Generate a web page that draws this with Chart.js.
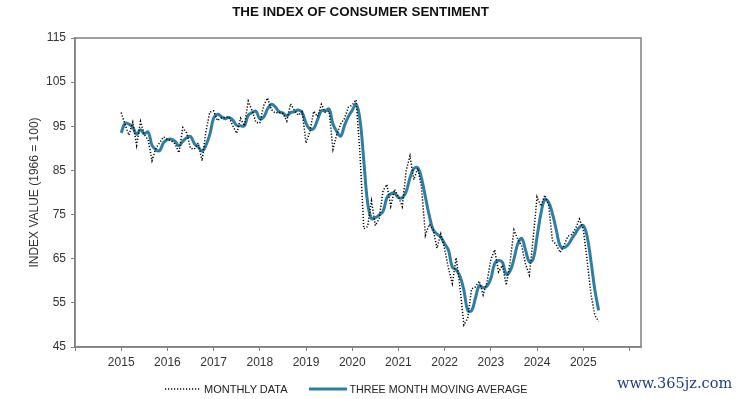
<!DOCTYPE html>
<html>
<head>
<meta charset="utf-8">
<title>The Index of Consumer Sentiment</title>
<script src="https://cdn.jsdelivr.net/npm/chart.js"></script>
<style>
    body { margin: 0; background: #fff; font-family: "Liberation Sans", Arial, sans-serif; }
    #wrap { position: relative; width: 738px; height: 399px; }
    #title { position: absolute; left: 0; top: 4px; width: 721px; text-align: center;
             font-weight: bold; font-size: 13.4px; color: #111; }
    #legend { position: absolute; top: 383px; left: 165px; font-size: 11px; color: #222;
              display: flex; align-items: center; white-space: nowrap; }
    #legend svg { display: block; margin-right: 3px; }
    #legend span { margin-right: 21px; }
    #legend span.last { font-size: 10.7px; }
    #stamp { position: absolute; left: 617px; top: 375px; font-family: "DejaVu Serif", serif;
             font-size: 14.5px; color: #1f3f80; }
</style>
</head>
<body>
<div id="wrap">
    <canvas id="chart" width="738" height="399"></canvas>
    <div id="title">THE INDEX OF CONSUMER SENTIMENT</div>
    <div id="legend">
        <svg width="36" height="6"><line x1="0" y1="3" x2="36" y2="3" stroke="#000" stroke-width="1.5" stroke-dasharray="1.2,1.8"/></svg>
        <span>MONTHLY DATA</span>
        <svg width="38" height="6"><line x1="0" y1="3" x2="38" y2="3" stroke="#2f7ea6" stroke-width="3"/></svg>
        <span class="last">THREE MONTH MOVING AVERAGE</span>
    </div>
    <div id="stamp">www.365jz.com</div>
</div>

<script>
    // monthly index, January 2015 to May 2025
    const startYear = 2015;
    const monthly = [
        98.1, 95.4, 93.0, 95.9, 90.7, 96.1, 93.1, 91.9, 87.2, 90.0, 91.3, 92.6,
        92.0, 91.7, 91.0, 89.0, 94.7, 93.5, 90.0, 89.8, 91.2, 87.2, 93.8, 98.2,
        98.5, 96.3, 96.9, 97.0, 97.1, 95.1, 93.4, 96.8, 95.1, 100.7, 98.5, 95.9,
        95.7, 99.7, 101.4, 98.8, 98.0, 98.2, 97.9, 96.2, 100.1, 98.6, 97.5, 98.3,
        91.2, 93.8, 98.4, 97.2, 100.0, 98.2, 98.4, 89.8, 93.2, 95.5, 96.8, 99.3,
        99.8, 101.0, 89.1, 71.8, 72.3, 78.1, 72.5, 74.1, 80.4, 81.8, 76.9, 80.7,
        79.0, 76.8, 84.9, 88.3, 82.9, 85.5, 81.2, 70.3, 72.8, 71.7, 67.4, 70.6,
        67.2, 62.8, 59.4, 65.2, 58.4, 50.0, 51.5, 58.2, 58.6, 59.9, 56.8, 59.7,
        64.9, 67.0, 62.0, 63.5, 59.0, 64.2, 71.5, 69.4, 67.9, 63.8, 61.3, 69.7,
        79.0, 76.9, 79.4, 77.2, 69.1, 68.2, 66.4, 67.9, 70.1, 70.5, 71.8, 74.0,
        71.7, 64.7, 57.0, 52.2, 50.8
    ];
    // three month moving average, same months
    const movingAvg = [
        93.5, 95.7, 95.5, 94.8, 93.2, 94.2, 93.3, 93.7, 90.7, 89.7, 89.5, 91.3,
        92.0, 92.1, 91.6, 90.6, 91.6, 92.4, 92.7, 91.1, 90.3, 89.4, 90.7, 93.1,
        96.8, 97.7, 97.2, 96.7, 97.0, 96.4, 95.2, 95.1, 95.1, 97.5, 98.1, 98.4,
        96.7, 97.1, 98.9, 100.0, 99.4, 98.3, 98.0, 97.4, 98.1, 98.3, 98.7, 98.1,
        95.7, 94.4, 94.5, 96.5, 98.5, 98.5, 98.9, 95.5, 93.8, 92.8, 95.2, 97.2,
        98.6, 100.0, 96.6, 87.3, 77.7, 74.1, 74.3, 74.9, 75.7, 78.8, 79.7, 79.8,
        78.9, 78.8, 80.2, 83.3, 85.4, 85.6, 83.2, 79.0, 74.8, 71.6, 70.6, 69.9,
        68.4, 66.9, 63.1, 62.5, 61.0, 57.9, 53.3, 53.2, 56.1, 58.9, 58.4, 58.8,
        60.5, 63.9, 64.6, 64.2, 61.5, 62.2, 64.9, 68.4, 69.6, 67.0, 64.3, 64.9,
        70.0, 75.2, 78.4, 77.8, 75.2, 71.5, 67.9, 67.5, 68.1, 69.5, 70.8, 72.1,
        72.5, 70.1, 64.5, 58.0, 53.3
    ];
    const yearLabels = [2015, 2016, 2017, 2018, 2019, 2020, 2021, 2022, 2023, 2024, 2025];
    const xTickYears = [2014, ...yearLabels, 2026];
    const yTicks = [45, 55, 65, 75, 85, 95, 105, 115];

    const toPoints = arr => arr.map((v, i) => ({ x: startYear + i / 12, y: v }));

    const axisGray = '#808080';
    const textColor = '#333';

    // frame round the plot (top and right edges)
    const frame = {
        id: 'frame',
        afterDraw(chart) {
            const { ctx, chartArea: a } = chart;
            ctx.save();
            ctx.strokeStyle = axisGray;
            ctx.lineWidth = 1.5;
            ctx.strokeRect(a.left, a.top, a.right - a.left, a.bottom - a.top);
            ctx.restore();
        }
    };

    new Chart(document.getElementById('chart'), {
        type: 'line',
        data: {
            datasets: [{
                label: 'MONTHLY DATA',
                data: toPoints(monthly),
                borderColor: '#000',
                borderWidth: 1.5,
                borderDash: [1.2, 1.8],
                pointRadius: 0,
                tension: 0
            }, {
                label: 'THREE MONTH MOVING AVERAGE',
                data: toPoints(movingAvg),
                borderColor: '#2f7ea6',
                borderWidth: 3,
                pointRadius: 0,
                tension: 0.4
            }]
        },
        options: {
            responsive: false,
            animation: false,
            layout: { padding: { top: 38, right: 97, bottom: 0, left: 0 } },
            plugins: {
                legend: { display: false },
                title: { display: false },
                tooltip: { enabled: false }
            },
            scales: {
                x: {
                    type: 'linear',
                    min: 2014,
                    max: 2026.25,
                    afterFit: s => { s.height = 52; },
                    afterBuildTicks: s => { s.ticks = xTickYears.map(v => ({ value: v })); },
                    border: { color: axisGray, width: 1.5 },
                    grid: { drawOnChartArea: false, tickLength: 4, color: axisGray },
                    ticks: {
                        autoSkip: false,
                        maxRotation: 0,
                        padding: 4,
                        color: textColor,
                        font: { family: 'Liberation Sans', size: 12 },
                        callback: v => yearLabels.includes(v) ? String(v) : ''
                    }
                },
                y: {
                    min: yTicks[0],
                    max: yTicks[yTicks.length - 1],
                    afterFit: s => { s.width = 75; },
                    afterBuildTicks: s => { s.ticks = yTicks.map(v => ({ value: v })); },
                    border: { color: axisGray, width: 1.5 },
                    grid: { drawOnChartArea: false, tickLength: 4, color: axisGray },
                    ticks: {
                        padding: 5,
                        color: textColor,
                        font: { family: 'Liberation Sans', size: 12 }
                    },
                    title: {
                        display: true,
                        text: 'INDEX VALUE (1966 = 100)',
                        color: textColor,
                        font: { family: 'Liberation Sans', size: 12 },
                        padding: { top: 27, bottom: 0 }
                    }
                }
            }
        },
        plugins: [frame]
    });
</script>
</body>
</html>
